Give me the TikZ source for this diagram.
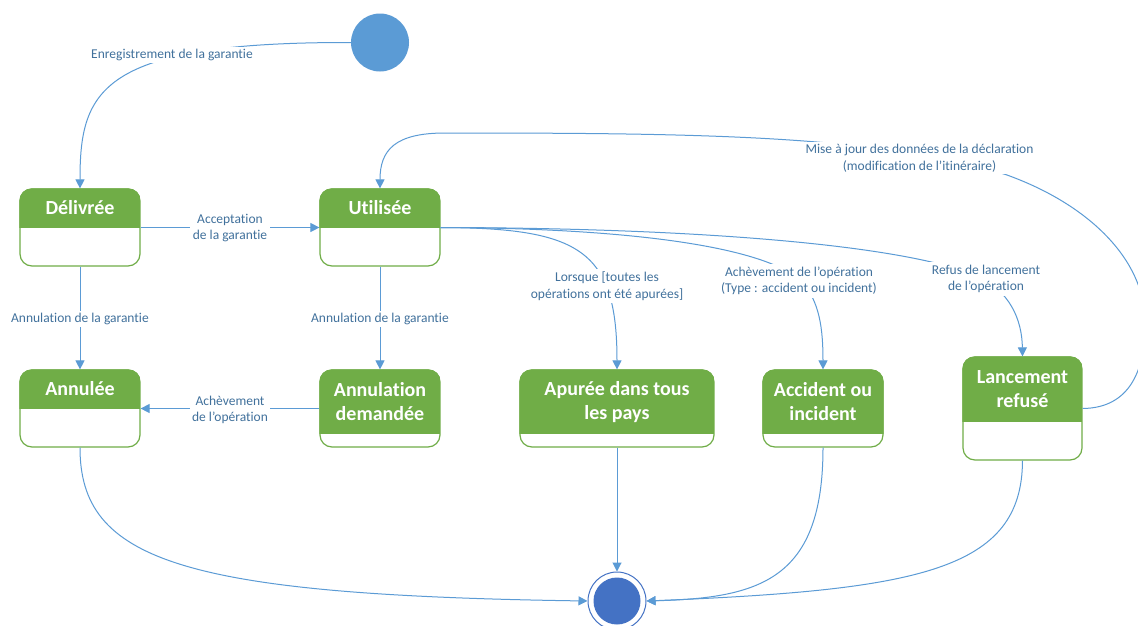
\documentclass[tikz,border=0pt]{standalone}
\usepackage{fontspec}
\setmainfont[Ligatures=NoCommon]{Carlito}
\usetikzlibrary{arrows.meta}
\definecolor{lineblue}{RGB}{91,155,213}
\definecolor{initblue}{RGB}{91,155,213}
\definecolor{finblue}{RGB}{68,114,196}
\definecolor{hdrgreen}{RGB}{112,173,71}
\definecolor{lbltext}{RGB}{65,113,156}
\newcommand\stbox[8]{%
  \node[boxshape, minimum width=#4pt, minimum height=#5pt] (#1) at (#2,#3) {};
  \begin{scope}
    \clip[rounded corners=12pt] (#1.north west) rectangle (#1.south east);
    \fill[hdrgreen] (#1.north west) rectangle (#1.east |- 0,#6);
  \end{scope}
  \node[boxshape, draw=hdrgreen, minimum width=#4pt, minimum height=#5pt] at (#2,#3) {};
  \node[hdrtext] (#1-t) at (#2,#7) {#8};
}
\begin{document}
\begin{tikzpicture}[x=1pt,y=-1pt,
  boxshape/.style={rectangle, rounded corners=12pt, inner sep=0pt, line width=1.2pt},
  hdrtext/.style={text=white, font=\bfseries\fontsize{20}{24}\selectfont, align=center, inner sep=0pt},
  conn/.style={draw=lineblue, line width=1pt, -{Triangle[length=9pt,width=9pt]}},
  lbl/.style={fill=white, text=lbltext, font=\fontsize{13.5}{16.5}\selectfont, align=center, inner sep=2.5pt}]
\useasboundingbox (0,0) rectangle (1138,625);
\fill[white] (0,0) rectangle (1138,625);

% states
\node[circle, fill=initblue, minimum size=58pt, inner sep=0pt] (init) at (380,42.5) {};
\stbox{del}{80}{227.5}{120}{77}{228}{208}{Délivrée}
\stbox{ut}{380}{227.5}{120}{77}{228}{208}{Utilisée}
\stbox{ann}{80}{408.5}{120}{77}{409}{389}{Annulée}
\stbox{ad}{380}{408.5}{120}{77}{434}{402}{Annulation\\demandée}
\stbox{ap}{617}{408.5}{194}{77}{434}{402}{Apurée dans tous\\les pays}
\stbox{acc}{823}{408.5}{120}{77}{434}{402}{Accident ou\\incident}
\stbox{lan}{1022.5}{408.5}{119}{103}{422}{389.5}{Lancement\\refusé}
\node[circle, draw=finblue, line width=1pt, minimum size=58pt, inner sep=0pt] (fin) at (617,601) {};
\fill[finblue] (fin.center) circle (23.5pt);

% connectors
\draw[conn] (init.west) .. controls (100,42) and (80,90) .. (del.north);
\draw[conn] (del.east) -- (ut.west);
\draw[conn] (del.south) -- (ann.north);
\draw[conn] (ut.south) -- (ad.north);
\draw[conn] (ad.west) -- (ann.east);
\draw[conn] (ut.east) .. controls (580,228) and (617,250) .. (ap.north);
\draw[conn] (ut.east) .. controls (620,228) and (760,245) .. (800,280) .. controls (820,300) and (823,330) .. (acc.north);
\draw[conn] (ut.east) .. controls (700,228) and (900,245) .. (975,275) .. controls (1010,290) and (1022,320) .. (lan.north);
\draw[conn] (lan.east) .. controls (1130,408) and (1146,370) .. (1145,320) .. controls (1144,260) and (1090,205) .. (1007,175) .. controls (880,135) and (700,133) .. (445,133) .. controls (395,133) and (380,150) .. (ut.north);
\draw[conn] (ann.south) .. controls (80,560) and (180,595) .. (fin.west);
\draw[conn] (ap.south) -- (fin.north);
\draw[conn] (acc.south) .. controls (823,580) and (760,598) .. (fin.east);
\draw[conn] (lan.south) .. controls (1022,570) and (920,590) .. (fin.east);

% labels
\node[lbl] (l1) at (172,55) {Enregistrement de la garantie};
\node[lbl] (l2) at (230,228) {Acceptation\\de la garantie};
\node[lbl] (l3) at (80,319) {Annulation de la garantie};
\node[lbl] (l4) at (380,319) {Annulation de la garantie};
\node[lbl] (l5) at (230,410) {Achèvement\\de l’opération};
\node[lbl] (l6) at (607,286) {Lorsque [toutes les\\opérations ont été apurées]};
\node[lbl] (l7) at (799,281) {Achèvement de l’opération\\(Type : accident ou incident)};
\node[lbl] (l8) at (986,279) {Refus de lancement\\de l’opération};
\node[lbl] (l9) at (919.5,158) {Mise à jour des données de la déclaration\\(modification de l’itinéraire)};
\end{tikzpicture}
\end{document}
